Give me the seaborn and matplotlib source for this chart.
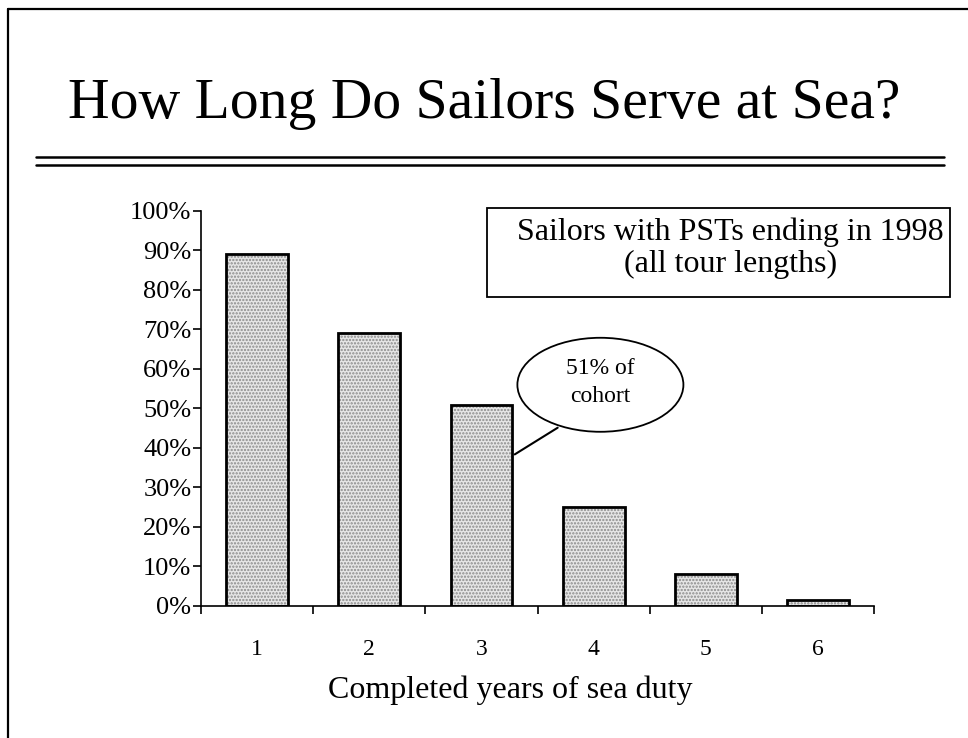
import matplotlib
matplotlib.use('Agg')
import matplotlib.pyplot as plt
import seaborn as sns
import pandas as pd
from matplotlib.patches import Ellipse, Rectangle
from matplotlib.lines import Line2D
from matplotlib.ticker import PercentFormatter, MultipleLocator

# Style: plain white, Times-like serif, everything in black
sns.set_style('white')
plt.rcParams['font.family'] = ['Liberation Serif', 'DejaVu Serif']
plt.rcParams['hatch.linewidth'] = 1.1
for k in ['text.color', 'axes.labelcolor', 'xtick.color', 'ytick.color']:
    plt.rcParams[k] = 'black'

years = ['1', '2', '3', '4', '5', '6']
pct_at_sea = [89, 69, 51, 25, 8, 1.5]
title = 'How Long Do Sailors Serve at Sea?'
box_text = 'Sailors with PSTs ending in 1998\n(all tour lengths)'
callout = '51% of\ncohort'

df = pd.DataFrame({'year': years, 'pct': pct_at_sea})

fig = plt.figure(figsize=(9.68, 7.38), dpi=100)
ax = fig.add_axes([0.2077, 0.1789, 0.6953, 0.5352])

# stippled fill first, then the black outlines on top
sns.barplot(data=df, x='year', y='pct', color='#e6e6e6', edgecolor='#8a8a8a',
            linewidth=0, hatch='.....', width=0.55, ax=ax)
sns.barplot(data=df, x='year', y='pct', fill=False, edgecolor='black',
            linewidth=2.0, width=0.55, ax=ax)

ax.set_ylim(0, 100)
ax.set_xlim(-0.5, 5.5)
ax.yaxis.set_major_locator(MultipleLocator(10))
ax.yaxis.set_major_formatter(PercentFormatter(100, decimals=0))
ax.set_xticks(range(6))
ax.set_xticks([i - 0.5 for i in range(7)], minor=True)
ax.tick_params(axis='x', which='major', bottom=False, labelsize=17, pad=20)
ax.tick_params(axis='x', which='minor', bottom=True, length=6, width=1.2, direction='out')
ax.tick_params(axis='y', left=True, length=6, width=1.2, direction='out', labelsize=19, pad=1)
for s in ['top', 'right']:
    ax.spines[s].set_visible(False)
for s in ['left', 'bottom']:
    ax.spines[s].set_color('black')
    ax.spines[s].set_linewidth(1.2)

ax.set_ylabel('')
ax.set_xlabel('Completed years of sea duty', fontsize=23)
ax.xaxis.set_label_coords(0.459, -0.175)

# legend-like box
ax.add_patch(Rectangle((0.425, 0.7825), 0.688, 0.2255, transform=ax.transAxes,
                       fill=False, edgecolor='black', linewidth=1.3, clip_on=False))
ax.text(0.786, 0.905, box_text, transform=ax.transAxes, ha='center', va='center',
        fontsize=23, linespacing=1.15)

# callout for bar 3
ax.add_patch(Ellipse((3.06, 56), 1.48, 23.8, fill=False, edgecolor='black',
                     linewidth=1.3, clip_on=False))
ax.text(3.06, 56.5, callout, ha='center', va='center', fontsize=17, linespacing=1.45)
ax.annotate('', xy=(2.275, 38), xytext=(2.70, 45.5),
            arrowprops=dict(arrowstyle='-', lw=1.5, color='black'))

# title and double rule
fig.text(0.5, 1 - 118 / 738, title, ha='center', va='baseline', fontsize=41.5)
for yy in [1 - 157 / 738, 1 - 165 / 738]:
    fig.add_artist(Line2D([36 / 968, 944 / 968], [yy, yy], color='black', lw=1.8))

# page frame (left and top edges)
fig.add_artist(Line2D([8 / 968, 8 / 968], [0, 1 - 9 / 738], color='black', lw=1.6))
fig.add_artist(Line2D([8 / 968, 1], [1 - 9 / 738, 1 - 9 / 738], color='black', lw=1.6))

fig.savefig('out.png', dpi=100)
